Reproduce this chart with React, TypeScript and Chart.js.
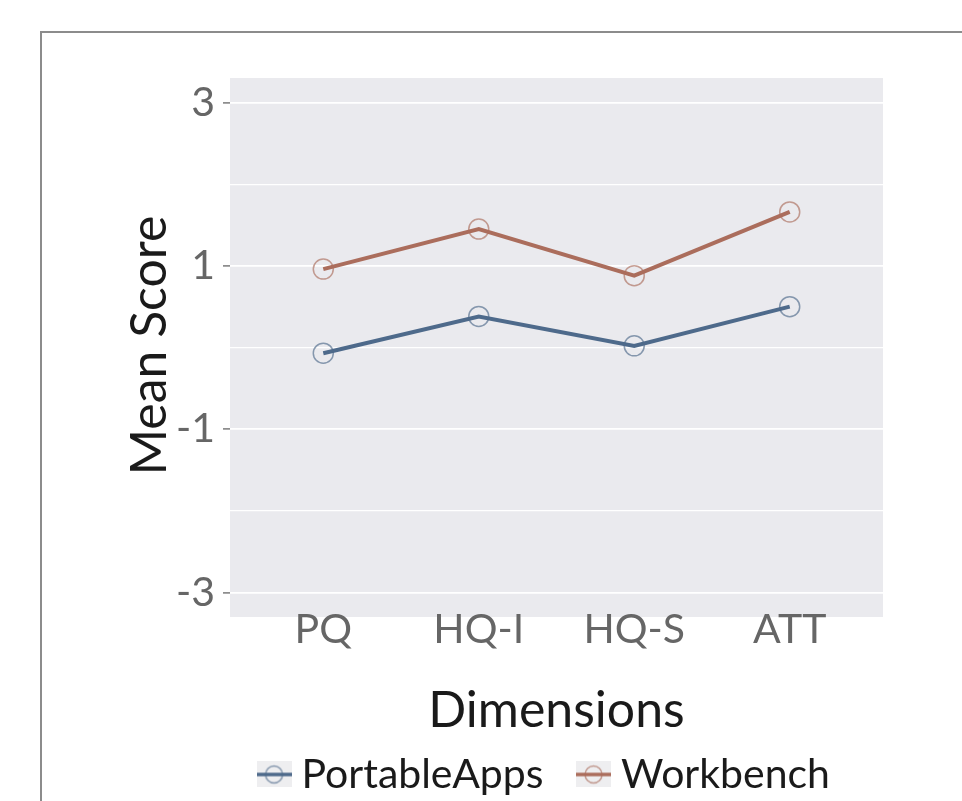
import React, { useEffect, useRef } from 'react';
import { Chart, registerables } from 'chart.js';

Chart.register(...registerables);

// ---- data ----
const categories = ['PQ', 'HQ-I', 'HQ-S', 'ATT'];
const seriesNames = ['PortableApps', 'Workbench'];
const portableApps = [-0.07, 0.38, 0.02, 0.5];
const workbench = [0.96, 1.45, 0.88, 1.66];
const yTickValues = [-3, -2, -1, 0, 1, 2, 3];
const yLabeledTicks = [-3, -1, 1, 3];
const xTitle = 'Dimensions';
const yTitle = 'Mean Score';

// ---- style ----
const FONT = 'Lato, "DejaVu Sans", sans-serif';
const BLUE = '#4e6a8b';
const BLUE_A = 'rgba(78,106,139,0.65)';
const BROWN = '#ab6d5c';
const BROWN_A = 'rgba(171,109,92,0.65)';
const PANEL = '#eaeaee';
const PANEL_EXTRA = 4; // panel extends slightly below the plotting area
const LEGEND_SHIFT = 8;

const panelPlugin = {
  id: 'panelBg',
  beforeDraw(chart: any) {
    const { ctx, chartArea: a } = chart;
    ctx.save();
    ctx.fillStyle = PANEL;
    ctx.fillRect(a.left, a.top, a.right - a.left, a.bottom - a.top + PANEL_EXTRA);
    ctx.restore();
  },
  afterLayout(chart: any) {
    const lg = chart.legend;
    if (lg) {
      lg.left -= LEGEND_SHIFT;
      lg.right -= LEGEND_SHIFT;
    }
  },
};

function makeIcon(line: string, circ: string) {
  const c = document.createElement('canvas');
  c.width = 35;
  c.height = 26;
  const g = c.getContext('2d')!;
  g.fillStyle = '#eeeef0';
  g.fillRect(0, 0, 35, 26);
  g.strokeStyle = line;
  g.lineWidth = 3.5;
  g.beginPath();
  g.moveTo(0, 13);
  g.lineTo(35, 13);
  g.stroke();
  g.strokeStyle = circ;
  g.lineWidth = 1.5;
  g.beginPath();
  g.arc(17.5, 13, 8.5, 0, Math.PI * 2);
  g.stroke();
  return c;
}

export default function App() {
  const ref = useRef<HTMLCanvasElement>(null);

  useEffect(() => {
    const canvas = ref.current!;
    const mctx = document.createElement('canvas').getContext('2d')!;
    const w = (t: string) => {
      mctx.font = `100px ${FONT}`;
      return mctx.measureText(t).width / 100;
    };
    const tickFs = ((87 / w('HQ-I') + 100 / w('HQ-S')) / 2) * 1.03;
    const legendFs = 242 / w('PortableApps');
    const titleFs = (259 / w('Dimensions') + 257 / w('Mean Score')) / 2;

    const plotBottom = 617 - PANEL_EXTRA;
    const xAxisH = 711 - plotBottom;
    const xTickPad = 630 - plotBottom - (tickFs * 1.2) / 2;
    const xTitlePadB = 711 - 711 - (titleFs * 1.2) / 2;
    const yTitlePadT = 150 - (titleFs * 1.2) / 2;
    const pxPerUnit = (617 - 78) / 6.6;
    const yMax = 3.3;
    const yMin = yMax - (plotBottom - 78) / pxPerUnit;

    const icons = [makeIcon(BLUE, BLUE_A), makeIcon(BROWN, BROWN_A)];

    const chart = new Chart(canvas, {
      type: 'line',
      data: {
        datasets: [
          {
            label: seriesNames[0],
            data: portableApps.map((y, i) => ({ x: i, y })),
            borderColor: BLUE,
            borderWidth: 4,
            pointRadius: 10,
            pointBorderWidth: 1.5,
            pointBorderColor: BLUE_A,
            pointBackgroundColor: 'rgba(0,0,0,0)',
            tension: 0,
          },
          {
            label: seriesNames[1],
            data: workbench.map((y, i) => ({ x: i, y })),
            borderColor: BROWN,
            borderWidth: 4,
            pointRadius: 10,
            pointBorderWidth: 1.5,
            pointBorderColor: BROWN_A,
            pointBackgroundColor: 'rgba(0,0,0,0)',
            tension: 0,
          },
        ],
      },
      options: {
        animation: false,
        responsive: false,
        maintainAspectRatio: false,
        layout: { padding: { top: 78, right: 79, left: 0, bottom: 0 } },
        plugins: {
          tooltip: { enabled: false },
          legend: {
            position: 'bottom',
            fullSize: false,
            maxHeight: 90,
            labels: {
              usePointStyle: true,
              pointStyleWidth: 14,
              padding: 43,
              color: '#1a1a1a',
              font: { family: FONT, size: legendFs },
              generateLabels: (ch: any) =>
                ch.data.datasets.map((ds: any, i: number) => ({
                  text: ds.label,
                  pointStyle: icons[i],
                  fillStyle: 'rgba(0,0,0,0)',
                  strokeStyle: 'rgba(0,0,0,0)',
                  lineWidth: 0,
                  hidden: false,
                  datasetIndex: i,
                  fontColor: '#1a1a1a',
                })),
            },
          },
        },
        scales: {
          x: {
            type: 'linear',
            min: -0.6,
            max: 3.6,
            afterBuildTicks: (s: any) => {
              s.ticks = categories.map((_, i) => ({ value: i }));
            },
            afterFit: (s: any) => {
              s.height = xAxisH;
            },
            grid: { display: false, drawTicks: false },
            border: { display: false },
            ticks: {
              autoSkip: false,
              maxRotation: 0,
              padding: xTickPad,
              color: '#666666',
              font: { family: FONT, size: tickFs },
              callback: (v: any) => categories[v as number] ?? '',
            },
            title: {
              display: true,
              text: xTitle,
              color: '#1a1a1a',
              font: { family: FONT, size: titleFs },
              padding: { top: 0, bottom: xTitlePadB },
            },
          },
          y: {
            type: 'linear',
            min: yMin,
            max: yMax,
            afterBuildTicks: (s: any) => {
              s.ticks = yTickValues.map((v) => ({ value: v }));
            },
            afterFit: (s: any) => {
              s.width = 230;
            },
            grid: {
              color: '#ffffff',
              lineWidth: (c: any) => (yLabeledTicks.includes(c.tick?.value) ? 1.8 : 1.3),
              tickLength: 7,
              tickWidth: 1.5,
              tickColor: (c: any) =>
                yLabeledTicks.includes(c.tick?.value) ? '#7a7a7a' : 'rgba(0,0,0,0)',
            },
            border: { display: false },
            ticks: {
              padding: 8,
              color: '#666666',
              font: { family: FONT, size: tickFs },
              callback: (v: any) => (yLabeledTicks.includes(v) ? String(v) : ''),
            },
            title: {
              display: true,
              text: yTitle,
              color: '#1a1a1a',
              font: { family: FONT, size: titleFs },
              padding: { top: yTitlePadT, bottom: 0 },
            },
          },
        },
      },
      plugins: [panelPlugin],
    } as any);

    return () => chart.destroy();
  }, []);

  return (
    <div
      style={{
        position: 'absolute',
        left: 0,
        top: 0,
        width: 962,
        height: 801,
        overflow: 'hidden',
        background: '#ffffff',
      }}
    >
      <div
        style={{
          position: 'absolute',
          left: 40,
          top: 31,
          width: 980,
          height: 900,
          borderTop: '2px solid #8c8c8c',
          borderLeft: '2px solid #8c8c8c',
        }}
      />
      <canvas
        ref={ref}
        width={962}
        height={801}
        style={{ position: 'absolute', left: 0, top: 0, width: 962, height: 801 }}
      />
    </div>
  );
}
